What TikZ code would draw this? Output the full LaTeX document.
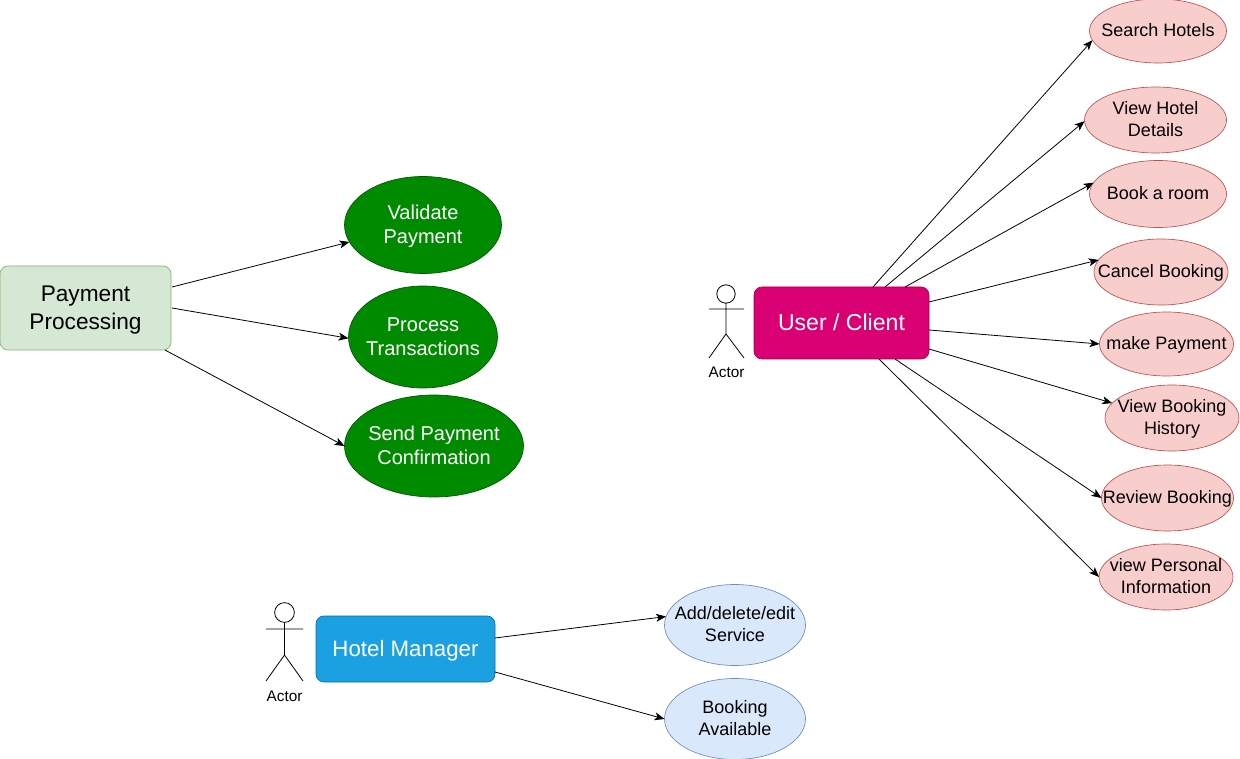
\documentclass[tikz,border=0pt]{standalone}
\usepackage{fontspec}
\setmainfont{Liberation Sans}
\usetikzlibrary{shapes.geometric,arrows.meta}
\definecolor{gfill}{HTML}{008A00}\definecolor{gline}{HTML}{005700}
\definecolor{rfill}{HTML}{F8CECC}\definecolor{rline}{HTML}{B85450}
\definecolor{bfill}{HTML}{DAE8FC}\definecolor{bline}{HTML}{6C8EBF}
\definecolor{pfill}{HTML}{D80073}\definecolor{pline}{HTML}{A50040}
\definecolor{mfill}{HTML}{1BA1E2}\definecolor{mline}{HTML}{006EAF}
\definecolor{lfill}{HTML}{D5E8D4}\definecolor{lline}{HTML}{82B366}
\newcommand{\etxt}[1]{\makebox[0pt]{\raisebox{-0.69em}{\smash{\begin{tabular}[c]{@{}c@{}}#1\end{tabular}}}}}
\tikzset{x=0.75pt,y=-0.75pt,
 ell/.style={ellipse,draw,inner sep=0pt,outer sep=0pt,line width=0.5pt},
 gell/.style={ell,fill=gfill,draw=gline,text=white,font=\fontsize{15}{18}\selectfont},
 rell/.style={ell,fill=rfill,draw=rline,font=\fontsize{13.5}{16.5}\selectfont},
 bell/.style={ell,fill=bfill,draw=bline,font=\fontsize{13.5}{16.5}\selectfont},
 box/.style={draw,rounded corners=6pt,inner sep=0pt,outer sep=0pt,line width=0.5pt},
 conn/.style={draw=black,line width=0.6pt,-{Stealth[length=7.5pt,width=6pt,inset=2pt]}},
 lab/.style={inner sep=0pt,font=\fontsize{11.5}{13}\selectfont},
 actor/.style={draw=black,line width=0.6pt}}
\begin{document}
\begin{tikzpicture}
\useasboundingbox (0,0) rectangle (1240,759);
% nodes
\node[box,fill=lfill,draw=lline,minimum width=171*0.75pt,minimum height=84*0.75pt,font=\fontsize{17}{21}\selectfont] (pay) at (85.5,308) {\etxt{Payment\\Processing}};
\node[gell,minimum width=157*0.75pt,minimum height=97*0.75pt] (g1) at (423,225) {\etxt{Validate\\Payment}};
\node[gell,minimum width=149*0.75pt,minimum height=102*0.75pt] (g2) at (423,337) {\etxt{Process\\Transactions}};
\node[gell,minimum width=179*0.75pt,minimum height=102*0.75pt] (g3) at (434,446) {\etxt{Send Payment\\Confirmation}};
\node[box,fill=pfill,draw=pline,text=white,minimum width=175*0.75pt,minimum height=72*0.75pt,font=\fontsize{17.3}{21}\selectfont] (user) at (841.5,323) {\etxt{User / Client}};
\node[rell,minimum width=137*0.75pt,minimum height=64*0.75pt] (r1) at (1158,31) {\etxt{Search Hotels}};
\node[rell,minimum width=142*0.75pt,minimum height=66*0.75pt] (r2) at (1155.5,120) {\etxt{View Hotel\\Details}};
\node[rell,minimum width=137*0.75pt,minimum height=67*0.75pt] (r3) at (1158,194) {\etxt{Book a room}};
\node[rell,minimum width=134*0.75pt,minimum height=66*0.75pt] (r4) at (1161,272) {\etxt{Cancel Booking}};
\node[rell,minimum width=134*0.75pt,minimum height=64*0.75pt] (r5) at (1166.5,344) {\etxt{make Payment}};
\node[rell,minimum width=134*0.75pt,minimum height=66*0.75pt] (r6) at (1172,418) {\etxt{View Booking\\History}};
\node[rell,minimum width=132*0.75pt,minimum height=66*0.75pt] (r7) at (1167.5,498) {\etxt{Review Booking}};
\node[rell,minimum width=134*0.75pt,minimum height=66*0.75pt] (r8) at (1166,577) {\etxt{view Personal\\Information}};
\node[box,fill=mfill,draw=mline,text=white,minimum width=179*0.75pt,minimum height=66*0.75pt,font=\fontsize{16.7}{20}\selectfont] (mgr) at (405.5,649) {\etxt{Hotel Manager}};
\node[bell,minimum width=141*0.75pt,minimum height=81*0.75pt] (b1) at (735,625) {\etxt{Add/delete/edit\\Service}};
\node[bell,minimum width=141*0.75pt,minimum height=81*0.75pt] (b2) at (735,719) {\etxt{Booking\\Available}};
% connectors
\coordinate (p1) at (172,287);\coordinate (p2) at (172,308);\coordinate (p3) at (165,350);
\draw[conn] (p1) -- (g1.193.7);
\draw[conn] (p2) -- (g2.181.5);
\draw[conn] (p3) -- (g3.180);
\coordinate (u1) at (873,287);\coordinate (u2) at (885,287);\coordinate (u3) at (905,287);\coordinate (u4) at (929,302);
\coordinate (u5) at (929,330);\coordinate (u6) at (929,349);\coordinate (u7) at (895,359);\coordinate (u8) at (879,359);
\foreach \a/\b in {u1/r1.188.5,u2/r2.181.5,u3/r3.170,u4/r4.169,u5/r5.180,u6/r6.166,u7/r7.180,u8/r8.180}{\draw[conn] (\a) -- (\b);}
\coordinate (m1) at (495,638);\coordinate (m2) at (495,672);
\draw[conn] (m1) -- (b1.173);
\draw[conn] (m2) -- (b2.180);
% actors
\draw[actor] (726,294) circle[radius=6.9pt];
\draw[actor] (726,303) -- (726,334) (709,309) -- (744,309) (709,358) -- (726,334) -- (744,358);
\node[lab] (a1) at (726.5,372.5) {Actor};
\draw[actor] (284.5,612.5) circle[radius=7.4pt];
\draw[actor] (284.5,622.5) -- (284.5,655) (266,629) -- (303,629) (266,681) -- (284.5,655) -- (303,681);
\node[lab] (a2) at (284.5,696.5) {Actor};
\end{tikzpicture}
\end{document}
